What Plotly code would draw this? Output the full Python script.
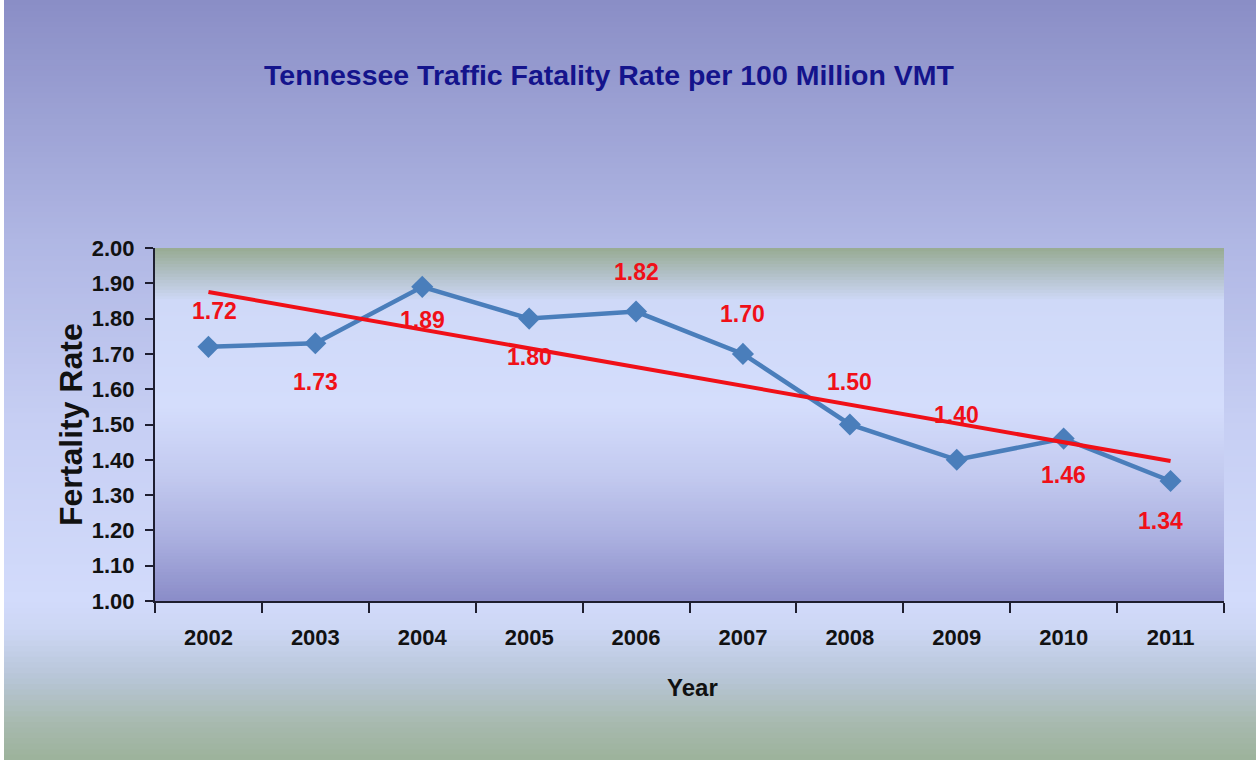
import numpy as np
import plotly.graph_objects as go

# ---- data ----
years = ["2002", "2003", "2004", "2005", "2006", "2007", "2008", "2009", "2010", "2011"]
rates = [1.72, 1.73, 1.89, 1.80, 1.82, 1.70, 1.50, 1.40, 1.46, 1.34]
y_ticks = [1.00, 1.10, 1.20, 1.30, 1.40, 1.50, 1.60, 1.70, 1.80, 1.90, 2.00]

# label offsets (pixels) - styling only
label_dy = [36, -39, -33, -38, 40, 40, 43, 45, -36, -40]
label_dx = [6, 0, 0, 0, 0, 0, 0, 0, 0, -10]

# linear trend line (least squares)
xi = np.arange(len(rates))
slope, intercept = np.polyfit(xi, rates, 1)
trend = list(intercept + slope * xi)

W, H = 1256, 760
ML, MR, MT, MB = 155, 32, 248, 159
PW, PH = W - ML - MR, H - MT - MB


def px2paper_x(px):
    return (px - ML) / PW


def py2paper_y(py):
    return (H - MB - py) / PH


def hex2rgb(h):
    h = h.lstrip("#")
    return tuple(int(h[i:i + 2], 16) for i in (0, 2, 4))


def interp(stops, t):
    for (t0, c0), (t1, c1) in zip(stops[:-1], stops[1:]):
        if t0 <= t <= t1:
            f = 0 if t1 == t0 else (t - t0) / (t1 - t0)
            a, b = hex2rgb(c0), hex2rgb(c1)
            return "rgb(%d,%d,%d)" % tuple(round(a[i] + (b[i] - a[i]) * f) for i in range(3))
    return "rgb(%d,%d,%d)" % hex2rgb(stops[-1][1])


shapes = []


def gradient(x0, x1, ytop, ybot, stops, n):
    step = (ybot - ytop) / n
    for i in range(n):
        a = ytop + i * step
        b = a + step + 0.8
        col = interp(stops, (i + 0.5) / n)
        shapes.append(dict(type="rect", xref="paper", yref="paper", layer="below",
                           x0=px2paper_x(x0), x1=px2paper_x(x1),
                           y0=py2paper_y(min(b, ybot)), y1=py2paper_y(a),
                           fillcolor=col, line=dict(width=0)))


fig_stops = [(0.0, "#8a8ec6"), (0.32, "#b0b7e4"), (0.55, "#c6cef3"), (0.79, "#d2dbfb"),
             (0.83, "#ccd6f4"), (0.89, "#b8c6d8"), (0.95, "#a8bab0"), (1.0, "#9cb29a")]
gradient(4, W, 0, H, fig_stops, 140)

plot_stops = [(0.0, "#97ab92"), (0.07, "#b0bfc4"), (0.15, "#cfd9f8"), (0.45, "#d4ddfc"),
              (0.65, "#c2c9ef"), (0.82, "#abb0e0"), (1.0, "#8a8cc8")]
gradient(ML, W - MR, MT, H - MB, plot_stops, 110)

fig = go.Figure()

fig.add_trace(go.Scatter(
    x=years, y=rates, mode="lines+markers",
    line=dict(color="#4a7ebb", width=4.5),
    marker=dict(symbol="diamond", size=17, color="#4a7ebb"),
    showlegend=False, hoverinfo="x+y"))

fig.add_trace(go.Scatter(
    x=years, y=trend, mode="lines",
    line=dict(color="#f01018", width=4),
    showlegend=False, hoverinfo="skip"))

FONT = "Liberation Sans, Arial, sans-serif"

annotations = []
for i, (v, dy, dx) in enumerate(zip(rates, label_dy, label_dx)):
    annotations.append(dict(x=i, y=v, xref="x", yref="y", text="<b>%.2f</b>" % v,
                            showarrow=False, yshift=dy, xshift=dx,
                            font=dict(family=FONT, size=23, color="#f01018"),
                            xanchor="center", yanchor="middle"))

annotations.append(dict(x=px2paper_x(71), y=py2paper_y(425), xref="paper", yref="paper",
                        text="<b>Fertality Rate</b>", textangle=-90, showarrow=False,
                        font=dict(family=FONT, size=32, color="#111111"),
                        xanchor="center", yanchor="middle"))
annotations.append(dict(x=px2paper_x(692), y=py2paper_y(687), xref="paper", yref="paper",
                        text="<b>Year</b>", showarrow=False,
                        font=dict(family=FONT, size=24, color="#111111"),
                        xanchor="center", yanchor="middle"))

fig.update_layout(
    width=W, height=H,
    margin=dict(l=ML, r=MR, t=MT, b=MB),
    paper_bgcolor="white",
    plot_bgcolor="rgba(0,0,0,0)",
    shapes=shapes,
    annotations=annotations,
    title=dict(text="<b>Tennessee Traffic Fatality Rate per 100 Million VMT</b>",
               x=609 / W, xanchor="center", y=1 - 75 / H, yanchor="middle",
               font=dict(family=FONT, size=28.5, color="#14148c")),
    xaxis=dict(type="category", range=[-0.5, len(years) - 0.5], tickson="boundaries",
               ticks="outside", ticklen=10,
               tickwidth=1.5, tickcolor="#1e1e30", showline=True, linecolor="#1e1e30",
               linewidth=2, showgrid=False, zeroline=False, ticklabelstandoff=16,
               tickangle=0,
               tickfont=dict(family=FONT, size=22, color="#111111", weight="bold")),
    yaxis=dict(range=[1, 2], tickvals=y_ticks, ticktext=["%.2f" % t for t in y_ticks],
               ticks="outside", ticklen=8, tickwidth=1.5, tickcolor="#1e1e30",
               showline=True, linecolor="#1e1e30", linewidth=2, showgrid=False,
               zeroline=False, ticklabelstandoff=6,
               tickfont=dict(family=FONT, size=22, color="#111111", weight="bold")),
)

fig.write_html("out.html", config={"displayModeBar": False},
               post_script="document.body.style.margin='0';")
